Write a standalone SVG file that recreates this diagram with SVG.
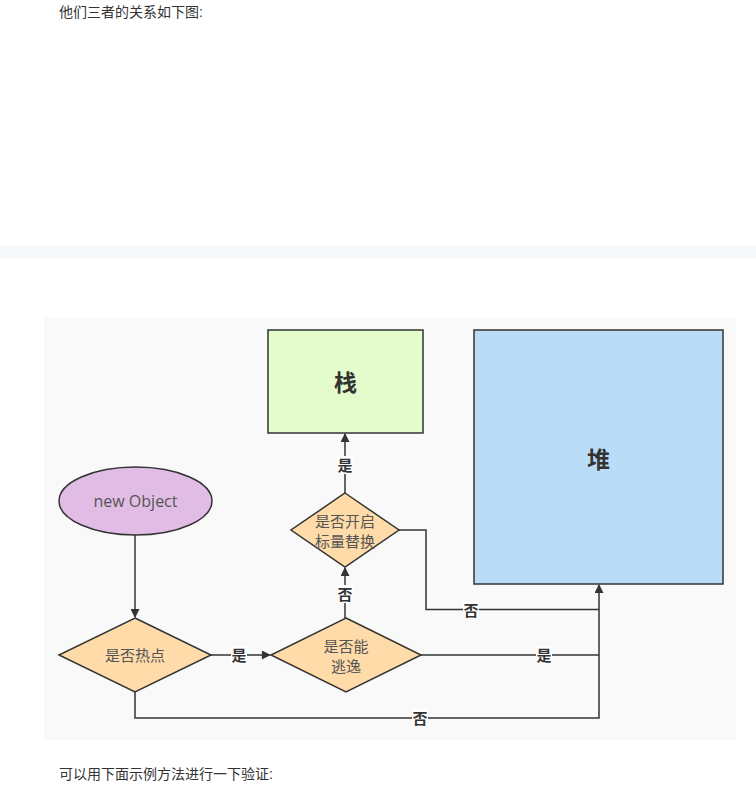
<svg xmlns="http://www.w3.org/2000/svg" width="756" height="787" viewBox="0 0 756 787">
<defs>
<marker id="arr" viewBox="0 0 10 10" refX="9" refY="5" markerWidth="11" markerHeight="9" markerUnits="userSpaceOnUse" orient="auto"><path d="M0,0 L10,5 L0,10 z" fill="#333"/></marker>
<style>
.page{font-family:"Liberation Sans","Noto Sans CJK SC",sans-serif;font-size:14px;fill:#333}
.node{stroke:#333;stroke-width:1.5}
.nt{font-family:"Noto Sans CJK SC","Liberation Sans",sans-serif;font-size:15px;fill:#555;text-anchor:middle}
.big{font-family:"Noto Sans CJK SC",sans-serif;font-size:23px;font-weight:bold;fill:#333;text-anchor:middle}
.edge{fill:none;stroke:#333;stroke-width:1.5}
.lbl{font-family:"Noto Sans CJK SC",sans-serif;font-size:15px;font-weight:bold;fill:#333;text-anchor:middle}
.lb{fill:#ffffff}
</style>
</defs>
<rect width="756" height="787" fill="#ffffff"/>
<text class="page" x="59" y="17">他们三者的关系如下图:</text>
<rect x="0" y="246" width="756" height="12" fill="#f7f8fc"/>
<rect x="44" y="318" width="692" height="422" fill="#f9f9f9"/>
<g id="edges">
<path class="edge" d="M135,535 V617" marker-end="url(#arr)"/>
<path class="edge" d="M210,655 H270" marker-end="url(#arr)"/>
<path class="edge" d="M345,618 V568" marker-end="url(#arr)"/>
<path class="edge" d="M345,493 V434" marker-end="url(#arr)"/>
<path class="edge" d="M399,530 H426 V609.5 H599"/>
<path class="edge" d="M421,655 H599"/>
<path class="edge" d="M135,692 V718 H599 V585" marker-end="url(#arr)"/>
<rect class="lb" x="231" y="646" width="16" height="18"/>
<text class="lbl" x="239" y="661">是</text>
<rect class="lb" x="337" y="585" width="16" height="18"/>
<text class="lbl" x="345" y="600">否</text>
<rect class="lb" x="337" y="456" width="16" height="18"/>
<text class="lbl" x="345" y="471">是</text>
<rect class="lb" x="463" y="601" width="16" height="18"/>
<text class="lbl" x="471" y="616">否</text>
<rect class="lb" x="536" y="646" width="16" height="18"/>
<text class="lbl" x="544" y="661">是</text>
<rect class="lb" x="412" y="709" width="16" height="18"/>
<text class="lbl" x="420" y="724">否</text>
</g>
<g id="stack">
<rect class="node" x="268" y="330" width="155" height="103" fill="#e4fccc"/>
<text class="big" x="345.5" y="391">栈</text>
</g>
<g id="heap">
<rect class="node" x="474" y="330" width="249" height="254" fill="#bbdcf7"/>
<text class="big" x="598.5" y="468">堆</text>
</g>
<g id="newObject">
<ellipse class="node" cx="135.5" cy="501" rx="76.5" ry="34" fill="#e1bde6"/>
<text class="nt" x="135.5" y="507" style="font-family:'Open Sans','Liberation Sans',sans-serif;font-size:16px">new Object</text>
</g>
<g id="hot">
<path class="node" d="M135,618 L211,655 L135,692 L59,655 Z" fill="#fedba8"/>
<text class="nt" x="135" y="661">是否热点</text>
</g>
<g id="escape">
<path class="node" d="M346,618 L421,655 L346,692 L271,655 Z" fill="#fedba8"/>
<text class="nt" x="346" y="652">是否能</text>
<text class="nt" x="346" y="672">逃逸</text>
</g>
<g id="scalar">
<path class="node" d="M345,493 L399,530 L345,567 L291,530 Z" fill="#fedba8"/>
<text class="nt" x="345" y="527">是否开启</text>
<text class="nt" x="345" y="547">标量替换</text>
</g>
<text class="page" x="59" y="779">可以用下面示例方法进行一下验证:</text>
</svg>
